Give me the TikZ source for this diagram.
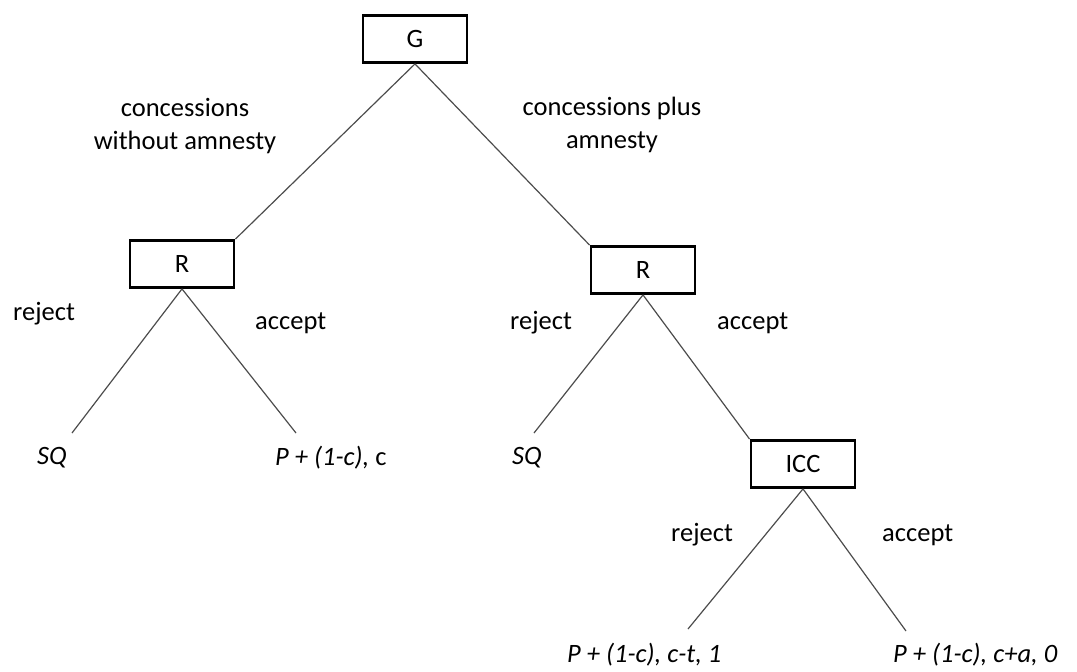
\documentclass[tikz,border=0pt]{standalone}
\usepackage{fontspec}
\setmainfont{Carlito}
\begin{document}
\begin{tikzpicture}[x=1pt,y=-1pt,
  player/.style={draw=black,line width=2.8pt,fill=white,minimum width=104pt,minimum height=47pt,inner sep=0pt,font=\fontsize{26.5}{30}\selectfont},
  branch/.style={draw=black!70,line width=1.2pt},
  lbl/.style={font=\fontsize{26.5}{33}\selectfont,inner sep=0pt},
  pay/.style={font=\fontsize{26.5}{30}\selectfont\itshape,inner sep=0pt}]
\useasboundingbox (0,0) rectangle (1077,672);

% decision nodes
\node[player] (G)   at (415,39)  {G};
\node[player] (R1)  at (182,264) {R};
\node[player] (R2)  at (643,270) {R};
\node[player] (ICC) at (803,464) {ICC};

% loose ends of the terminal branches
\coordinate (e1) at (72,433);
\coordinate (e2) at (296,433);
\coordinate (e3) at (534,433);
\coordinate (e4) at (688,629);
\coordinate (e5) at (906,631);

% branches
\draw[branch] (G.south) -- (R1.north east);
\draw[branch] (G.south) -- (R2.north west);
\draw[branch] (R1.south) -- (e1);
\draw[branch] (R1.south) -- (e2);
\draw[branch] (R2.south) -- (e3);
\draw[branch] (R2.south) -- (ICC.north west);
\draw[branch] (ICC.south) -- (e4);
\draw[branch] (ICC.south) -- (e5);

% move labels
\node[lbl,align=center] (l1) at (185,126) {concessions\\without amnesty};
\node[lbl,align=center] (l2) at (612,125) {concessions plus\\amnesty};
\node[lbl,anchor=west] (l3) at (13,314) {reject};
\node[lbl,anchor=west] (l4) at (255,323) {accept};
\node[lbl,anchor=west] (l5) at (510,323) {reject};
\node[lbl,anchor=west] (l6) at (717,323) {accept};
\node[lbl,anchor=west] (l7) at (671,535) {reject};
\node[lbl,anchor=west] (l8) at (882,535) {accept};

% payoffs
\node[pay,anchor=west] (p1) at (37,458) {SQ};
\node[pay,anchor=west] (p2) at (275,458) {P + (1-c), \upshape c};
\node[pay,anchor=west] (p3) at (512,458) {SQ};
\node[pay,anchor=west] (p4) at (567,655) {P + (1-c), c-t, 1};
\node[pay,anchor=west] (p5) at (893,655) {P + (1-c), c+a, 0};
\end{tikzpicture}
\end{document}
